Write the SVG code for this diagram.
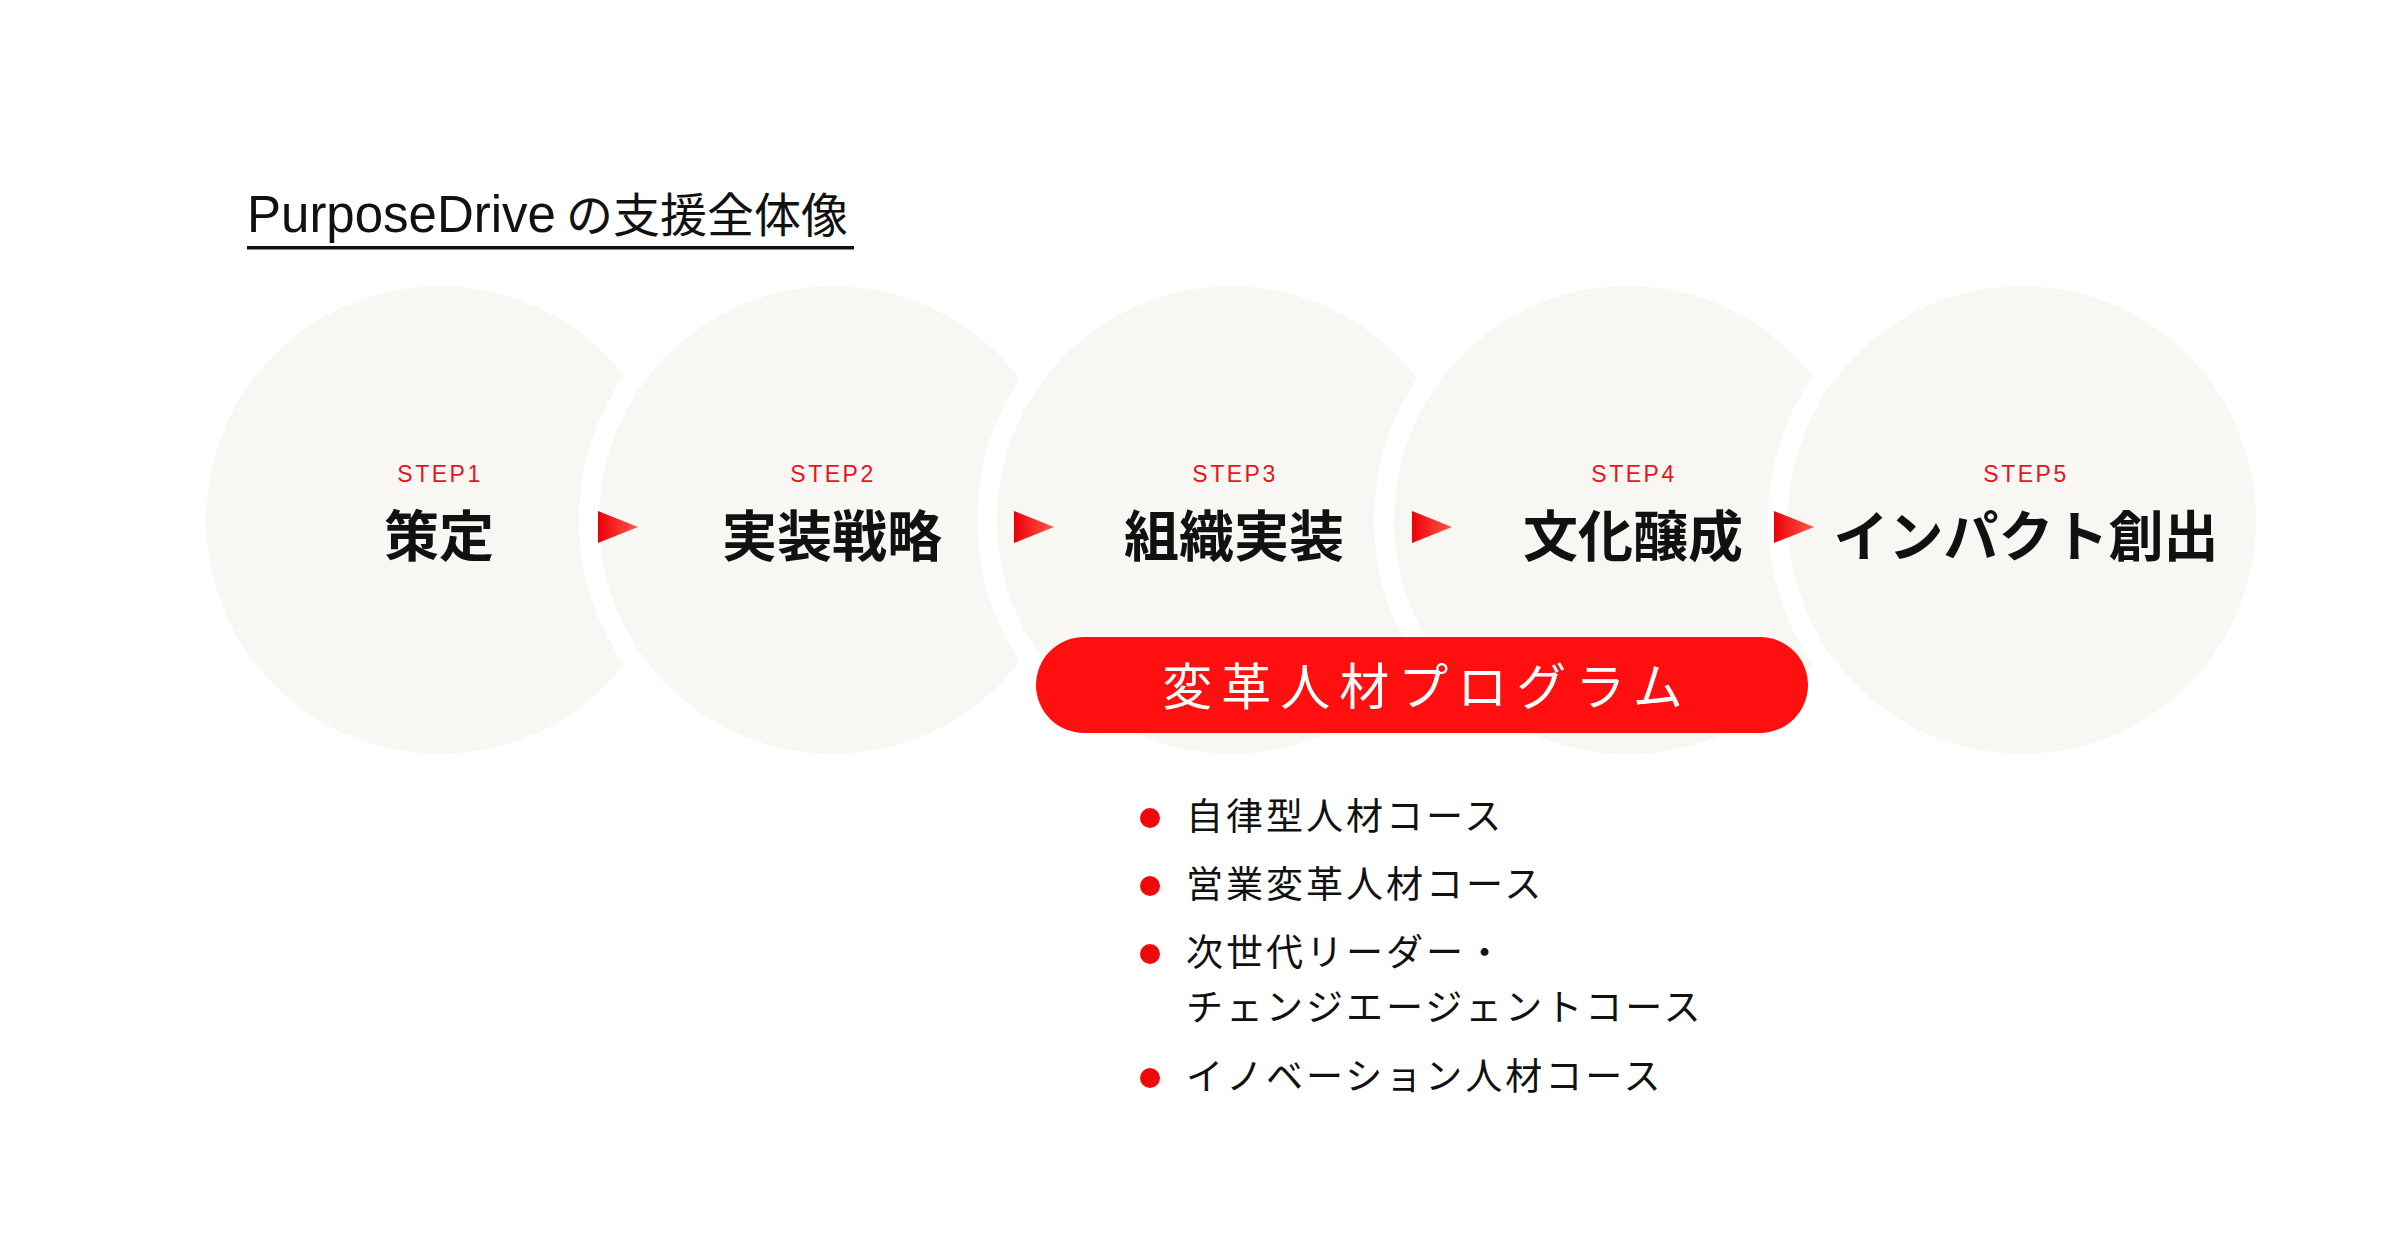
<svg xmlns="http://www.w3.org/2000/svg" width="2400" height="1260" viewBox="0 0 2400 1260">
  <defs>
    <linearGradient id="arrowGrad" x1="0" y1="0" x2="1" y2="0">
      <stop offset="0" stop-color="#ec0008"/>
      <stop offset="1" stop-color="#ff5a48"/>
    </linearGradient>
    <style>
      .circle { fill: #f9f7f4; stroke: #ffffff; stroke-width: 20; }
      .step { font-family: "Liberation Sans", "Noto Sans CJK JP", sans-serif; font-size: 23px; fill: #e8141c; letter-spacing: 2.5px; text-anchor: middle; }
      .label { font-family: "Noto Sans CJK JP", sans-serif; font-size: 55px; font-weight: 700; fill: #111111; text-anchor: middle; }
      .arrow { fill: url(#arrowGrad); }
      .title { font-family: "Liberation Sans", "Noto Sans CJK JP", sans-serif; font-size: 51px; fill: #111111; }
      .title-jp { font-family: "Noto Sans CJK JP", sans-serif; font-size: 47px; }
      .pill-text { font-family: "Noto Sans CJK JP", sans-serif; font-size: 50px; fill: #ffffff; letter-spacing: 9px; }
      .item { font-family: "Noto Sans CJK JP", sans-serif; font-size: 37px; fill: #111111; letter-spacing: 3px; }
      .dot { fill: #ee0a0a; }
    </style>
  </defs>
  <rect width="2400" height="1260" fill="#ffffff"/>

  <g id="title">
    <text class="title" x="247" y="232">PurposeDrive<tspan class="title-jp" x="566">の支援全体像</tspan></text>
    <rect x="247" y="246" width="607" height="3.5" fill="#111111"/>
  </g>

  <g id="step1">
    <circle class="circle" cx="440" cy="520" r="244"/>
    <text class="step" x="440" y="482">STEP1</text>
    <text class="label" x="439" y="556">策定</text>
  </g>
  <g id="step2">
    <circle class="circle" cx="833" cy="520" r="244"/>
    <text class="step" x="833" y="482">STEP2</text>
    <text class="label" x="832" y="556">実装戦略</text>
  </g>
  <g id="step3">
    <circle class="circle" cx="1231" cy="520" r="244"/>
    <text class="step" x="1235" y="482">STEP3</text>
    <text class="label" x="1234" y="556">組織実装</text>
  </g>
  <g id="step4">
    <circle class="circle" cx="1628" cy="520" r="244"/>
    <text class="step" x="1634" y="482">STEP4</text>
    <text class="label" x="1633" y="556">文化醸成</text>
  </g>
  <g id="step5">
    <circle class="circle" cx="2022" cy="520" r="244"/>
    <text class="step" x="2026" y="482">STEP5</text>
    <text class="label" x="2026" y="556">インパクト創出</text>
  </g>

  <g id="connectors">
    <polygon class="arrow" points="598,511 638,527 598,543"/>
    <polygon class="arrow" points="1014,511 1054,527 1014,543"/>
    <polygon class="arrow" points="1412,511 1452,527 1412,543"/>
    <polygon class="arrow" points="1774,511 1814,527 1774,543"/>
  </g>

  <g id="program">
    <rect x="1036" y="637" width="772" height="96" rx="48" ry="48" fill="#ff0f0f"/>
    <text class="pill-text" x="1427" y="705" text-anchor="middle">変革人材プログラム</text>
  </g>

  <g id="courses">
    <circle class="dot" cx="1150" cy="818" r="10"/>
    <text class="item" x="1186" y="830">自律型人材コース</text>
    <circle class="dot" cx="1150" cy="886" r="10"/>
    <text class="item" x="1186" y="898">営業変革人材コース</text>
    <circle class="dot" cx="1150" cy="954" r="10"/>
    <text class="item" x="1186" y="966">次世代リーダー・</text>
    <text class="item" x="1186" y="1021">チェンジエージェントコース</text>
    <circle class="dot" cx="1150" cy="1078" r="10"/>
    <text class="item" x="1186" y="1090">イノベーション人材コース</text>
  </g>
</svg>
